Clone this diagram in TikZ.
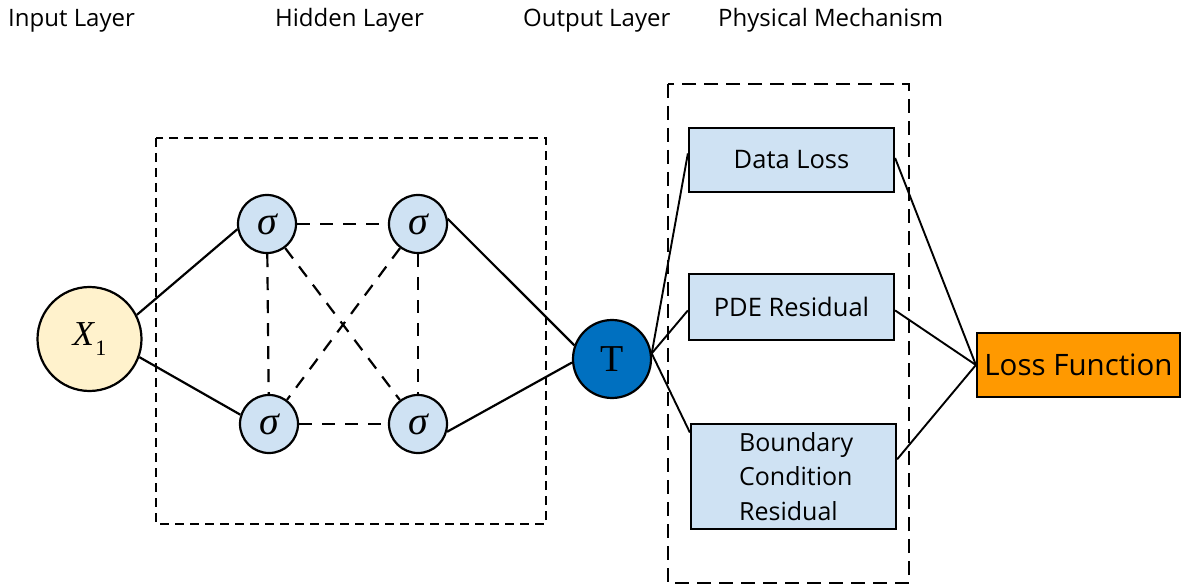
\documentclass[tikz,border=0pt]{standalone}
\usepackage{fontspec}
\setmainfont{Open Sans}
\newfontfamily\tms{Liberation Serif}
\usetikzlibrary{calc}
\definecolor{nodeblue}{RGB}{207,226,243}
\definecolor{inyellow}{RGB}{255,242,204}
\definecolor{tblue}{RGB}{0,112,192}
\definecolor{lforange}{RGB}{255,153,0}
\begin{document}
\begin{tikzpicture}[x=1pt,y=-1pt,
  title/.style={anchor=base west, font=\fontsize{24}{24}\selectfont, inner sep=0},
  neuron/.style={circle, draw, line width=2.2pt, fill=nodeblue, minimum size=58pt, inner sep=0, font=\tms\itshape\fontsize{40}{40}\selectfont},
  conn/.style={line width=2.2pt},
  thinconn/.style={line width=1.9pt},
  dconn/.style={line width=2.2pt, dash pattern=on 13pt off 10pt},
  hidbox/.style={line width=1.7pt, dash pattern=on 9pt off 6pt},
  physbox/.style={line width=2.8pt, dash pattern=on 14pt off 8pt},
  pbox/.style={draw, line width=2.2pt, fill=nodeblue, minimum width=205pt, inner sep=0, font=\fontsize{25.5}{25.5}\selectfont},
  lossbox/.style={draw, line width=2.2pt, fill=lforange, minimum width=203pt, minimum height=64pt, inner sep=0, font=\fontsize{29.5}{29.5}\selectfont}
]
\useasboundingbox (0,0) rectangle (1181,588);
% titles
\node[title] (tin) at (8,27) {Input Layer};
\node[title] (thid) at (275,27) {Hidden Layer};
\node[title] (tout) at (523,27) {Output Layer};
\node[title] (tphy) at (718,27) {Physical Mechanism};
% dashed frames
\draw[hidbox] (156,138) rectangle (546,524);
\draw[physbox] (668,84) rectangle (909,583);
% nodes
\node[circle, draw, line width=2.2pt, fill=inyellow, minimum size=104pt, inner sep=0] (x1) at (89.5,339)
  {\tms\fontsize{35}{35}\selectfont\textit{X}\raisebox{-0.28em}{\fontsize{22}{22}\selectfont 1}};
\node[neuron] (s1) at (267,224) {σ};
\node[neuron] (s2) at (418,224) {σ};
\node[neuron] (s3) at (269,424) {σ};
\node[neuron] (s4) at (418,424) {σ};
\node[circle, draw, line width=2.2pt, fill=tblue, minimum size=78pt, inner sep=0, font=\tms\fontsize{38}{38}\selectfont] (T) at (612,359) {T};
\node[pbox, minimum height=64pt] (dl) at (791.5,160) {Data Loss};
\node[pbox, minimum height=66pt] (pde) at (791.5,307) {PDE Residual};
\node[pbox, minimum height=105pt] (bcr) at (793.5,476.5) {};
\node[anchor=west, align=left, inner sep=0, font=\fontsize{25}{34.5}\selectfont] (bcrt) at ($(bcr.west)+(49,0)$) {Boundary\\Condition\\Residual};
\node[lossbox] (lf) at (1078.5,365) {Loss Function};
% connectors
\draw[conn] (x1.27) -- (s1.190);
\draw[conn] (x1.-20) -- (s3.162);
\draw[dconn] (s1) -- (s2);
\draw[dconn] (s3) -- (s4);
\draw[dconn] (s1) -- (s3);
\draw[dconn] (s2) -- (s4);
\draw[dconn] (s1) -- (s4);
\draw[dconn] (s2) -- (s3);
\draw[conn] (s2.10) -- (T.160);
\draw[conn] (s4.-15) -- (T.185);
\draw[thinconn] (T.8) -- ($(dl.north west)!0.4!(dl.south west)$);
\draw[thinconn] (T.8) -- ($(pde.north west)!0.55!(pde.south west)$);
\draw[thinconn] (T.8) -- ($(bcr.north west)!0.09!(bcr.south west)$);
\draw[thinconn] ($(dl.north east)!0.47!(dl.south east)$) -- (lf.west);
\draw[thinconn] ($(pde.north east)!0.55!(pde.south east)$) -- (lf.west);
\draw[thinconn] ($(bcr.north east)!0.34!(bcr.south east)$) -- (lf.west);
\end{tikzpicture}
\end{document}
